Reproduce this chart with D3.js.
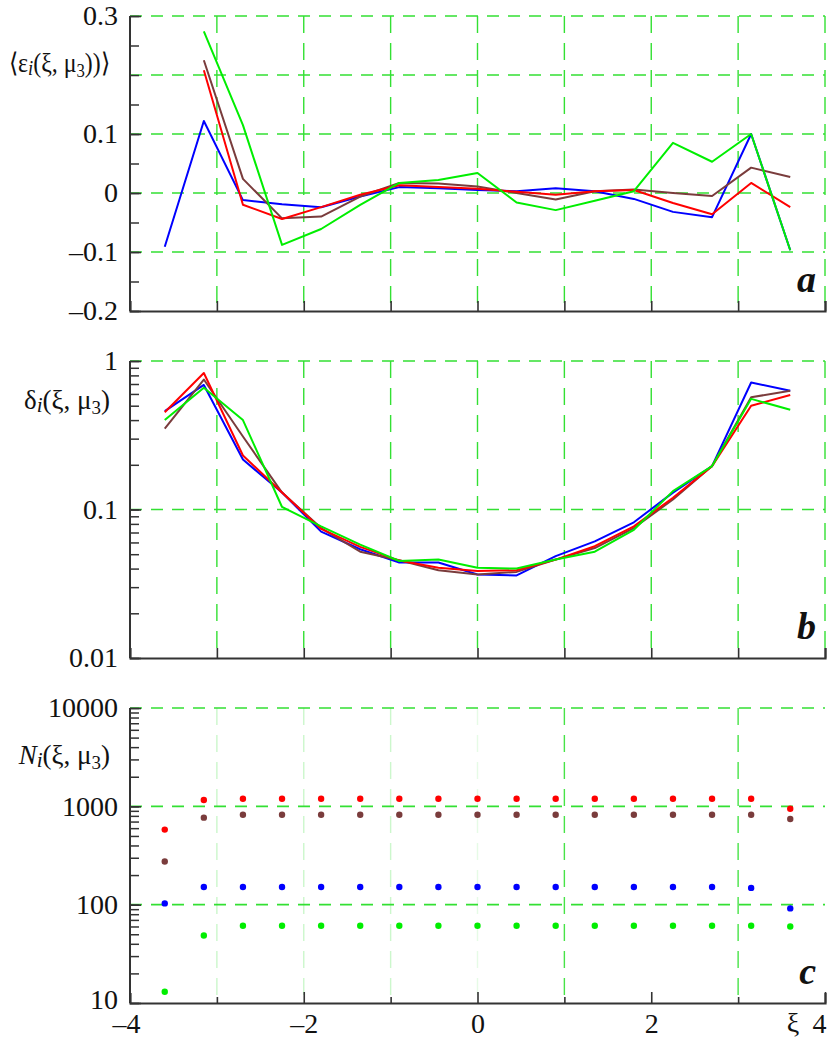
<!DOCTYPE html>
<html>
<head>
<meta charset="utf-8">
<script src="https://cdn.jsdelivr.net/npm/d3@7"></script>
<style>
  body { margin: 0; background: #fff; }
  svg text { fill: #111; }
</style>
</head>
<body>
<div id="chart"></div>
<script>
// bin centres of xi
const xi = [-3.6, -3.15, -2.7, -2.25, -1.8, -1.35, -0.9, -0.45, 0, 0.45, 0.9, 1.35, 1.8, 2.25, 2.7, 3.15, 3.6];

// panel a: <eps_i(xi, mu3)>
const epsBlue  = [-0.091, 0.122, -0.012, -0.019, -0.024, -0.006, 0.010, 0.008, 0.005, 0.003, 0.008, 0.003, -0.010, -0.032, -0.041, 0.100, -0.097];
const epsRed   = [null, 0.208, -0.020, -0.044, -0.024, -0.003, 0.013, 0.010, 0.007, 0.002, -0.003, 0.003, 0.005, -0.017, -0.036, 0.017, -0.024];
const epsBrown = [null, 0.225, 0.024, -0.043, -0.040, -0.006, 0.017, 0.016, 0.011, 0.000, -0.011, 0.003, 0.006, 0.000, -0.005, 0.043, 0.027];
const epsGreen = [null, 0.274, 0.115, -0.088, -0.061, -0.020, 0.017, 0.022, 0.034, -0.016, -0.029, -0.013, 0.003, 0.085, 0.053, 0.100, -0.097];

// panel b: delta_i(xi, mu3)
const delBlue  = [0.46, 0.69, 0.217, 0.13, 0.071, 0.054, 0.044, 0.044, 0.0365, 0.036, 0.0485, 0.061, 0.082, 0.13, 0.196, 0.716, 0.63];
const delRed   = [0.452, 0.83, 0.231, 0.13, 0.074, 0.056, 0.0453, 0.0405, 0.0385, 0.039, 0.046, 0.0566, 0.077, 0.12, 0.196, 0.50, 0.59];
const delBrown = [0.351, 0.75, 0.31, 0.13, 0.075, 0.052, 0.0455, 0.039, 0.0365, 0.038, 0.046, 0.055, 0.075, 0.117, 0.196, 0.57, 0.63];
const delGreen = [0.40, 0.66, 0.40, 0.104, 0.077, 0.058, 0.045, 0.046, 0.0405, 0.040, 0.046, 0.052, 0.073, 0.133, 0.196, 0.556, 0.47];

// panel c: N_i(xi, mu3)
const nRed   = [580, 1160, 1195, 1195, 1195, 1195, 1195, 1195, 1195, 1195, 1195, 1195, 1195, 1195, 1195, 1195, 946];
const nBrown = [275, 767, 822, 822, 822, 822, 822, 822, 822, 822, 822, 822, 822, 822, 822, 822, 743];
const nBlue  = [103, 151, 151, 151, 151, 151, 151, 151, 151, 151, 151, 151, 151, 151, 151, 148, 91.6];
const nGreen = [13, 48.6, 61, 61, 61, 61, 61, 61, 61, 61, 61, 61, 61, 61, 61, 61, 60];

const xTicks = [-4, -3, -2, -1, 0, 1, 2, 3, 4];
const xLabels = [-4, -2, 0, 2, 4];
const epsTicks = [0.3, 0.1, 0, -0.1, -0.2];

const colors = { blue: '#0000ff', red: '#ff0000', brown: '#7a3c3c', green: '#00ee00' };
const gridColor = '#33e033';
const serif = '"Liberation Serif", "Times New Roman", serif';

const width = 830, height = 1038;
const svg = d3.select('#chart').append('svg')
    .attr('width', width)
    .attr('height', height);

const x = d3.scaleLinear().domain([-4, 4]).range([130, 825]);
const fmt = v => (v < 0 ? '\u2013' : '') + Math.abs(v);

const panels = [
    { key: 'a', scale: d3.scaleLinear().domain([-0.2, 0.3]).range([311, 16]),
      series: [['blue', epsBlue], ['brown', epsBrown], ['red', epsRed], ['green', epsGreen]],
      hGrid: [0.3, 0.2, 0.1, 0, -0.1], minor: d3.range(-0.2, 0.301, 0.05), labels: epsTicks,
      vGrid: [-3, -2, -1, 0, 1, 2, 3, 4], vOpacity: [1, 1, 1, 1, 1, 1, 1, 1] },
    { key: 'b', scale: d3.scaleLog().domain([0.01, 1]).range([658, 361]),
      series: [['blue', delBlue], ['brown', delBrown], ['red', delRed], ['green', delGreen]],
      hGrid: [1, 0.1], labels: [1, 0.1, 0.01],
      vGrid: [-3, -2, -1, 0, 1, 2, 3, 4], vOpacity: [1, 1, 1, 1, 1, 1, 1, 1] },
    { key: 'c', scale: d3.scaleLog().domain([10, 10000]).range([1003, 708]),
      dots: [['red', nRed], ['brown', nBrown], ['blue', nBlue], ['green', nGreen]],
      hGrid: [10000, 1000, 100], labels: [10000, 1000, 100, 10],
      vGrid: [-3, -2, -1, 0, 1, 2, 3], vOpacity: [0.25, 0.25, 0.25, 0.12, 0.9, 0, 0.9] }
];

panels.forEach(p => {
    const y = p.scale;
    const [yBot, yTop] = y.range();
    const g = svg.append('g').attr('class', 'panel-' + p.key);

    // grid
    g.selectAll('.hgrid')
        .data(p.hGrid)
        .enter()
            .append('line')
            .attr('x1', x(-4)).attr('x2', x(4))
            .attr('y1', d => y(d)).attr('y2', d => y(d))
            .attr('stroke', gridColor)
            .attr('stroke-width', 1.6)
            .attr('stroke-dasharray', '12,9');

    g.selectAll('.vgrid')
        .data(p.vGrid)
        .enter()
            .append('line')
            .attr('x1', d => x(d)).attr('x2', d => x(d))
            .attr('y1', yTop).attr('y2', yBot)
            .attr('stroke', gridColor)
            .attr('stroke-width', 1.4)
            .attr('stroke-opacity', (d, i) => p.vOpacity[i])
            .attr('stroke-dasharray', '17,10');

    // y axis: minor ticks then labelled ticks
    let minorVals;
    if (p.minor) {
        minorVals = p.minor;
    } else {
        const [lo, hi] = y.domain();
        minorVals = [];
        for (let dec = lo; dec < hi; dec *= 10) {
            for (let k = 1; k <= 9; k++) minorVals.push(dec * k);
        }
        minorVals.push(hi);
    }
    g.append('g')
        .attr('transform', `translate(${x(-4)},0)`)
        .call(d3.axisLeft(y).tickValues(minorVals).tickSize(-9).tickFormat(''))
        .call(a => a.select('.domain').remove())
        .selectAll('line').attr('stroke', '#333').attr('stroke-width', 1.5);

    const yAxis = g.append('g')
        .attr('transform', `translate(${x(-4)},0)`)
        .call(d3.axisLeft(y).tickValues(p.labels).tickSize(-11).tickPadding(12).tickFormat(fmt));
    yAxis.selectAll('text').style('font-size', '28px').style('font-family', serif);
    yAxis.selectAll('line, path').attr('stroke', '#333').attr('stroke-width', 1.6);
    yAxis.select('.domain').attr('d', `M0,${yBot}V${yTop}`).attr('stroke-width', 2);
    // bottom label sits a little higher so it clears the x labels
    if (p.key === 'c') yAxis.selectAll('.tick text').filter(d => d === 10).attr('y', -3);

    // x axis
    const xAxis = g.append('g')
        .attr('transform', `translate(0,${yBot})`)
        .call(d3.axisBottom(x).tickValues(xTicks).tickSizeOuter(0).tickSize(-10)
            .tickPadding(10)
            .tickFormat(d => (p.key === 'c' && xLabels.includes(d)) ? fmt(d) : ''));
    xAxis.selectAll('text').style('font-size', '28px').style('font-family', serif)
        .attr('x', d => (d === -4 ? -4 : d === 4 ? -6 : 0));
    xAxis.selectAll('line, path').attr('stroke', '#333').attr('stroke-width', 1.6);
    xAxis.select('.domain').attr('stroke-width', 2.2);
    if (p.key === 'c') {
        xAxis.selectAll('.tick line').attr('y2', d => (d % 2 === 0 ? -11 : -6));
    }
    xAxis.selectAll('.tick').filter(d => d === -4).select('line').remove();

    // data
    if (p.series) {
        const line = d3.line()
            .defined(d => d[1] != null)
            .x(d => x(d[0]))
            .y(d => y(d[1]));
        p.series.forEach(([c, vals]) => {
            g.append('path')
                .datum(xi.map((v, i) => [v, vals[i]]))
                .attr('fill', 'none')
                .attr('stroke', colors[c])
                .attr('stroke-width', 2)
                .attr('stroke-linejoin', 'round')
                .attr('d', line);
        });
    }
    if (p.dots) {
        p.dots.forEach(([c, vals]) => {
            g.selectAll('.dot-' + c)
                .data(xi.map((v, i) => [v, vals[i]]))
                .enter()
                    .append('circle')
                    .attr('cx', d => x(d[0]))
                    .attr('cy', d => y(d[1]))
                    .attr('r', 3.2)
                    .attr('fill', colors[c]);
        });
    }

    // panel letter
    g.append('text')
        .attr('x', 816).attr('y', yBot - 19)
        .attr('text-anchor', 'end')
        .style('font-family', serif)
        .style('font-size', '38px')
        .style('font-weight', 'bold')
        .style('font-style', 'italic')
        .text(p.key);
});

// y axis titles, squeezed to the width they take in the figure
const titles = [
    { y: 72, left: 8, parts: [['\u27E8\u03B5', 0], ['i', 1], ['(\u03BE, \u03BC', 0], ['3', 2], ['))\u27E9', 0]] },
    { y: 409, left: 22, parts: [['\u03B4', 0], ['i', 1], ['(\u03BE, \u03BC', 0], ['3', 2], [')', 0]] },
    { y: 764, left: 15, parts: [['N', 3], ['i', 1], ['(\u03BE, \u03BC', 0], ['3', 2], [')', 0]] }
];
titles.forEach(t => {
    const tg = svg.append('g');
    const txt = tg.append('text')
        .attr('x', 0).attr('y', 0)
        .attr('text-anchor', 'end')
        .style('font-family', serif)
        .style('font-size', '27px');
    let shift = 0;
    t.parts.forEach(([s, kind]) => {
        const ts = txt.append('tspan').text(s);
        let dy = 0;
        if (kind === 1) { ts.style('font-style', 'italic').style('font-size', '21px'); dy = 3; }
        if (kind === 2) { ts.style('font-size', '19px'); dy = 5; }
        if (kind === 3) { ts.style('font-style', 'italic'); }
        ts.attr('dy', dy - shift);
        shift = dy;
    });
    const w = txt.node().getComputedTextLength();
    const k = Math.min(1, (110 - t.left) / w);
    tg.attr('transform', `translate(110,${t.y}) scale(${k},1)`);
});

// xi axis name
svg.append('text')
    .attr('x', 793).attr('y', 1032)
    .attr('text-anchor', 'middle')
    .style('font-family', serif)
    .style('font-size', '28px')
    .text('\u03BE');
</script>
</body>
</html>
